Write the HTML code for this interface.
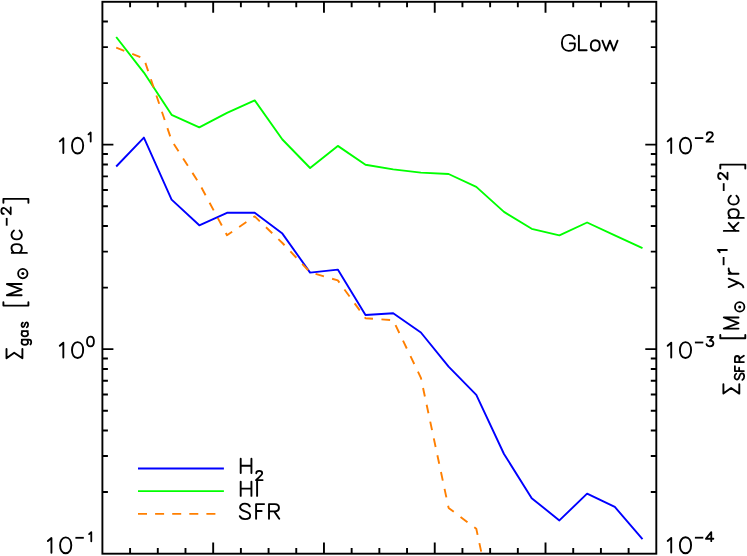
<!DOCTYPE html>
<html><head><meta charset="utf-8"><title>GLow</title>
<style>html,body{margin:0;padding:0;background:#fff;overflow:hidden}svg{display:block}text{font-family:"Liberation Sans",sans-serif;fill:#000}</style></head><body>
<svg role="img" aria-label="GLow: surface density of H2, HI gas and SFR versus radius" width="747" height="556" viewBox="0 0 747 556">
<desc>GLow. Left axis: Sigma_gas [M_sun pc^-2], 10^-1 to 10^1. Right axis: Sigma_SFR [M_sun yr^-1 kpc^-2], 10^-4 to 10^-2. Legend: H2 (blue), HI (green), SFR (orange dashed).</desc>
<rect x="0" y="0" width="747" height="556" fill="#fff"/>
<defs><clipPath id="c"><rect x="102.4" y="1.8" width="553.9" height="551.9"/></clipPath></defs>
<path d="M130.09 1.75v5.50M130.09 553.60v-5.50M157.79 1.75v5.50M157.79 553.60v-5.50M185.49 1.75v5.50M185.49 553.60v-5.50M213.18 1.75v11.00M213.18 553.60v-11.00M240.88 1.75v5.50M240.88 553.60v-5.50M268.57 1.75v5.50M268.57 553.60v-5.50M296.26 1.75v5.50M296.26 553.60v-5.50M323.96 1.75v11.00M323.96 553.60v-11.00M351.65 1.75v5.50M351.65 553.60v-5.50M379.35 1.75v5.50M379.35 553.60v-5.50M407.04 1.75v5.50M407.04 553.60v-5.50M434.74 1.75v11.00M434.74 553.60v-11.00M462.44 1.75v5.50M462.44 553.60v-5.50M490.13 1.75v5.50M490.13 553.60v-5.50M517.83 1.75v5.50M517.83 553.60v-5.50M545.52 1.75v11.00M545.52 553.60v-11.00M573.22 1.75v5.50M573.22 553.60v-5.50M600.91 1.75v5.50M600.91 553.60v-5.50M628.61 1.75v5.50M628.61 553.60v-5.50M102.40 492.05h5.50M656.30 492.05h-5.50M102.40 456.04h5.50M656.30 456.04h-5.50M102.40 430.50h5.50M656.30 430.50h-5.50M102.40 410.68h5.50M656.30 410.68h-5.50M102.40 394.49h5.50M656.30 394.49h-5.50M102.40 380.81h5.50M656.30 380.81h-5.50M102.40 368.95h5.50M656.30 368.95h-5.50M102.40 358.49h5.50M656.30 358.49h-5.50M102.40 349.13h11.00M656.30 349.13h-11.00M102.40 287.58h5.50M656.30 287.58h-5.50M102.40 251.58h5.50M656.30 251.58h-5.50M102.40 226.03h5.50M656.30 226.03h-5.50M102.40 206.22h5.50M656.30 206.22h-5.50M102.40 190.03h5.50M656.30 190.03h-5.50M102.40 176.34h5.50M656.30 176.34h-5.50M102.40 164.48h5.50M656.30 164.48h-5.50M102.40 154.02h5.50M656.30 154.02h-5.50M102.40 144.67h11.00M656.30 144.67h-11.00M102.40 83.12h5.50M656.30 83.12h-5.50M102.40 47.11h5.50M656.30 47.11h-5.50M102.40 21.56h5.50M656.30 21.56h-5.50" stroke="#000" stroke-width="1.9" fill="none"/>
<rect x="102.4" y="1.8" width="553.9" height="551.9" fill="none" stroke="#000" stroke-width="1.9"/>
<g clip-path="url(#c)" fill="none" stroke-width="1.9" stroke-linejoin="round">
<polyline points="116.2,166.5 143.9,137.6 171.6,199.6 199.3,225.3 227.0,212.8 254.7,212.8 282.4,233.6 310.1,272.6 337.8,269.6 365.5,315.0 393.2,313.3 420.9,332.5 448.6,366.7 476.3,394.8 504.0,454.0 531.7,498.2 559.4,520.4 587.1,493.6 614.8,506.9 642.5,539.2" stroke="#0000ff"/>
<polyline points="116.2,37.0 143.9,72.6 171.6,114.8 199.3,127.3 227.0,112.8 254.7,100.4 282.4,139.5 310.1,168.0 337.8,145.9 365.5,164.8 393.2,169.4 420.9,172.6 448.6,174.0 476.3,186.9 504.0,211.9 531.7,228.8 559.4,235.3 587.1,222.5 614.8,235.4 642.5,248.1" stroke="#00ff00"/>
<polyline points="116.2,47.7 143.9,58.5 171.6,140.5 199.3,183.5 227.0,235.2 254.7,216.4 282.4,243.0 310.1,272.3 337.8,280.4 365.5,318.2 393.2,320.3 420.9,377.8 448.6,507.9 476.3,528.8 504.0,658.0" stroke="#ff7f00" stroke-dasharray="8.7 8.5"/>
</g>
<g fill="none" stroke-width="1.9">
<path d="M138.0 468.5H223.9" stroke="#0000ff"/>
<path d="M138.0 491.1H223.9" stroke="#00ff00"/>
<path d="M138.0 513.9H223.3" stroke="#ff7f00" stroke-dasharray="9 8.1"/>
</g>
<path transform="translate(59.80 152.97) scale(14.700)" d="M0,-0.79L0.24,-1L0.24,0" fill="none" stroke="#000" stroke-width="0.129" stroke-linecap="round" stroke-linejoin="round"/><path transform="translate(72.00 152.97) scale(14.700)" d="M0.38,-1.04C0.14,-1.04 0,-0.8 0,-0.5C0,-0.2 0.14,0.04 0.38,0.04C0.62,0.04 0.76,-0.2 0.76,-0.5C0.76,-0.8 0.62,-1.04 0.38,-1.04Z" fill="none" stroke="#000" stroke-width="0.129" stroke-linecap="round" stroke-linejoin="round"/><path transform="translate(88.50 141.57) scale(9.100)" d="M0,-0.79L0.24,-1L0.24,0" fill="none" stroke="#000" stroke-width="0.198" stroke-linecap="round" stroke-linejoin="round"/>
<path transform="translate(59.80 357.43) scale(14.700)" d="M0,-0.79L0.24,-1L0.24,0" fill="none" stroke="#000" stroke-width="0.129" stroke-linecap="round" stroke-linejoin="round"/><path transform="translate(72.00 357.43) scale(14.700)" d="M0.38,-1.04C0.14,-1.04 0,-0.8 0,-0.5C0,-0.2 0.14,0.04 0.38,0.04C0.62,0.04 0.76,-0.2 0.76,-0.5C0.76,-0.8 0.62,-1.04 0.38,-1.04Z" fill="none" stroke="#000" stroke-width="0.129" stroke-linecap="round" stroke-linejoin="round"/><path transform="translate(87.00 346.03) scale(9.100)" d="M0.38,-1.04C0.14,-1.04 0,-0.8 0,-0.5C0,-0.2 0.14,0.04 0.38,0.04C0.62,0.04 0.76,-0.2 0.76,-0.5C0.76,-0.8 0.62,-1.04 0.38,-1.04Z" fill="none" stroke="#000" stroke-width="0.198" stroke-linecap="round" stroke-linejoin="round"/>
<path transform="translate(47.90 552.70) scale(14.700)" d="M0,-0.79L0.24,-1L0.24,0" fill="none" stroke="#000" stroke-width="0.129" stroke-linecap="round" stroke-linejoin="round"/><path transform="translate(60.10 552.70) scale(14.700)" d="M0.38,-1.04C0.14,-1.04 0,-0.8 0,-0.5C0,-0.2 0.14,0.04 0.38,0.04C0.62,0.04 0.76,-0.2 0.76,-0.5C0.76,-0.8 0.62,-1.04 0.38,-1.04Z" fill="none" stroke="#000" stroke-width="0.129" stroke-linecap="round" stroke-linejoin="round"/><path d="M75.4 537.8H83.8" stroke="#000" stroke-width="1.8" fill="none"/><path transform="translate(89.10 541.30) scale(9.100)" d="M0,-0.79L0.24,-1L0.24,0" fill="none" stroke="#000" stroke-width="0.198" stroke-linecap="round" stroke-linejoin="round"/>
<path transform="translate(667.70 152.97) scale(14.700)" d="M0,-0.79L0.24,-1L0.24,0" fill="none" stroke="#000" stroke-width="0.129" stroke-linecap="round" stroke-linejoin="round"/><path transform="translate(679.90 152.97) scale(14.700)" d="M0.38,-1.04C0.14,-1.04 0,-0.8 0,-0.5C0,-0.2 0.14,0.04 0.38,0.04C0.62,0.04 0.76,-0.2 0.76,-0.5C0.76,-0.8 0.62,-1.04 0.38,-1.04Z" fill="none" stroke="#000" stroke-width="0.129" stroke-linecap="round" stroke-linejoin="round"/><path d="M694.9 138.1H703.3" stroke="#000" stroke-width="1.8" fill="none"/><path transform="translate(706.50 141.57) scale(9.100)" d="M0.03,-0.76C0.03,-0.92 0.16,-1.03 0.36,-1.03C0.56,-1.03 0.69,-0.92 0.69,-0.76C0.69,-0.6 0.55,-0.48 0,0L0.74,0" fill="none" stroke="#000" stroke-width="0.198" stroke-linecap="round" stroke-linejoin="round"/>
<path transform="translate(667.70 357.43) scale(14.700)" d="M0,-0.79L0.24,-1L0.24,0" fill="none" stroke="#000" stroke-width="0.129" stroke-linecap="round" stroke-linejoin="round"/><path transform="translate(679.90 357.43) scale(14.700)" d="M0.38,-1.04C0.14,-1.04 0,-0.8 0,-0.5C0,-0.2 0.14,0.04 0.38,0.04C0.62,0.04 0.76,-0.2 0.76,-0.5C0.76,-0.8 0.62,-1.04 0.38,-1.04Z" fill="none" stroke="#000" stroke-width="0.129" stroke-linecap="round" stroke-linejoin="round"/><path d="M694.9 342.5H703.3" stroke="#000" stroke-width="1.8" fill="none"/><path transform="translate(706.50 346.03) scale(9.100)" d="M0.1,-1L0.72,-1L0.36,-0.6C0.6,-0.62 0.76,-0.48 0.76,-0.3C0.76,-0.1 0.58,0.03 0.37,0.03C0.19,0.03 0.05,-0.05 0,-0.2" fill="none" stroke="#000" stroke-width="0.198" stroke-linecap="round" stroke-linejoin="round"/>
<path transform="translate(667.70 552.60) scale(14.700)" d="M0,-0.79L0.24,-1L0.24,0" fill="none" stroke="#000" stroke-width="0.129" stroke-linecap="round" stroke-linejoin="round"/><path transform="translate(679.90 552.60) scale(14.700)" d="M0.38,-1.04C0.14,-1.04 0,-0.8 0,-0.5C0,-0.2 0.14,0.04 0.38,0.04C0.62,0.04 0.76,-0.2 0.76,-0.5C0.76,-0.8 0.62,-1.04 0.38,-1.04Z" fill="none" stroke="#000" stroke-width="0.129" stroke-linecap="round" stroke-linejoin="round"/><path d="M694.9 537.7H703.3" stroke="#000" stroke-width="1.8" fill="none"/><path transform="translate(705.90 541.20) scale(9.100)" d="M0.59,0L0.59,-1L0,-0.27L0.82,-0.27" fill="none" stroke="#000" stroke-width="0.198" stroke-linecap="round" stroke-linejoin="round"/>
<path transform="translate(240.70 473.10) scale(14.300)" d="M0,-1L0,0M0.75,-1L0.75,0M0,-0.51L0.75,-0.51" fill="none" stroke="#000" stroke-width="0.133" stroke-linecap="round" stroke-linejoin="round"/><path transform="translate(256.00 480.10) scale(9.000)" d="M0.03,-0.76C0.03,-0.92 0.16,-1.03 0.36,-1.03C0.56,-1.03 0.69,-0.92 0.69,-0.76C0.69,-0.6 0.55,-0.48 0,0L0.74,0" fill="none" stroke="#000" stroke-width="0.200" stroke-linecap="round" stroke-linejoin="round"/>
<path transform="translate(240.70 495.90) scale(14.300)" d="M0,-1L0,0M0.75,-1L0.75,0M0,-0.51L0.75,-0.51" fill="none" stroke="#000" stroke-width="0.133" stroke-linecap="round" stroke-linejoin="round"/><path transform="translate(257.10 495.90) scale(14.300)" d="M0,-1L0,0" fill="none" stroke="#000" stroke-width="0.133" stroke-linecap="round" stroke-linejoin="round"/>
<path transform="translate(239.80 518.70) scale(14.600)" d="M0.68,-0.85C0.62,-0.97 0.5,-1.03 0.35,-1.03C0.15,-1.03 0.02,-0.92 0.02,-0.78C0.02,-0.62 0.15,-0.56 0.36,-0.5C0.58,-0.44 0.71,-0.38 0.71,-0.22C0.71,-0.07 0.57,0.03 0.36,0.03C0.18,0.03 0.05,-0.05 0,-0.17" fill="none" stroke="#000" stroke-width="0.130" stroke-linecap="round" stroke-linejoin="round"/><path transform="translate(256.10 518.70) scale(14.600)" d="M0,0L0,-1L0.55,-1M0,-0.53L0.38,-0.53" fill="none" stroke="#000" stroke-width="0.130" stroke-linecap="round" stroke-linejoin="round"/><path transform="translate(269.00 518.70) scale(14.600)" d="M0,0L0,-1L0.4,-1C0.6,-1 0.68,-0.88 0.68,-0.75C0.68,-0.6 0.6,-0.5 0.4,-0.5L0,-0.5M0.36,-0.5L0.7,0" fill="none" stroke="#000" stroke-width="0.130" stroke-linecap="round" stroke-linejoin="round"/>
<path transform="translate(561.90 50.40) scale(14.900)" d="M0.85,-0.78C0.77,-0.95 0.63,-1.04 0.45,-1.04C0.18,-1.04 0,-0.82 0,-0.5C0,-0.18 0.18,0.03 0.45,0.03C0.66,0.03 0.87,-0.08 0.87,-0.3L0.87,-0.47L0.53,-0.47" fill="none" stroke="#000" stroke-width="0.128" stroke-linecap="round" stroke-linejoin="round"/><path transform="translate(578.90 50.30) scale(14.600)" d="M0,-1L0,0L0.53,0" fill="none" stroke="#000" stroke-width="0.130" stroke-linecap="round" stroke-linejoin="round"/><path transform="translate(590.80 50.50) scale(14.700)" d="M0.305,-0.7C0.12,-0.7 0,-0.55 0,-0.34C0,-0.13 0.12,0.02 0.305,0.02C0.49,0.02 0.61,-0.13 0.61,-0.34C0.61,-0.55 0.49,-0.7 0.305,-0.7Z" fill="none" stroke="#000" stroke-width="0.129" stroke-linecap="round" stroke-linejoin="round"/><path transform="translate(602.40 50.50) scale(14.700)" d="M0,-0.667L0.26,0L0.515,-0.667L0.77,0L1.03,-0.667" fill="none" stroke="#000" stroke-width="0.129" stroke-linecap="round" stroke-linejoin="round"/>
<g transform="translate(21.6 359.2) rotate(-90)"><path d="M10.2 -15.1H0.9L6.5 -7.4L0.9 0.8H10.2" fill="none" stroke="#000" stroke-width="1.9" stroke-linejoin="round" stroke-linecap="round"/><path transform="translate(14.30 6.30) scale(9.200)" d="M0.57,-0.667L0.57,0.1C0.57,0.28 0.47,0.36 0.3,0.36C0.2,0.36 0.12,0.34 0.05,0.28M0.57,-0.52C0.48,-0.63 0.4,-0.69 0.28,-0.69C0.1,-0.69 0,-0.53 0,-0.33C0,-0.13 0.1,0.02 0.28,0.02C0.4,0.02 0.48,-0.04 0.57,-0.14" fill="none" stroke="#000" stroke-width="0.196" stroke-linecap="round" stroke-linejoin="round"/><path transform="translate(22.90 6.30) scale(9.200)" d="M0.57,-0.667L0.57,0M0.57,-0.52C0.48,-0.63 0.4,-0.69 0.28,-0.69C0.1,-0.69 0,-0.53 0,-0.33C0,-0.13 0.1,0.02 0.28,0.02C0.4,0.02 0.48,-0.04 0.57,-0.14" fill="none" stroke="#000" stroke-width="0.196" stroke-linecap="round" stroke-linejoin="round"/><path transform="translate(32.00 6.30) scale(9.200)" d="M0.5,-0.55C0.45,-0.64 0.37,-0.69 0.25,-0.69C0.12,-0.69 0.02,-0.62 0.02,-0.52C0.02,-0.4 0.13,-0.37 0.26,-0.34C0.4,-0.3 0.52,-0.27 0.52,-0.15C0.52,-0.05 0.42,0.02 0.26,0.02C0.13,0.02 0.04,-0.03 0,-0.12" fill="none" stroke="#000" stroke-width="0.196" stroke-linecap="round" stroke-linejoin="round"/><path d="M57.0 -18.2H53.6V6.8H57.0" fill="none" stroke="#000" stroke-width="1.9" stroke-linejoin="round" stroke-linecap="round"/><path transform="translate(64.00 0.00) scale(14.700)" d="M0,0L0,-1L0.38,0L0.76,-1L0.76,0" fill="none" stroke="#000" stroke-width="0.129" stroke-linecap="round" stroke-linejoin="round"/><circle cx="85.6" cy="1.2" r="4.7" fill="none" stroke="#000" stroke-width="1.8"/><circle cx="85.6" cy="1.2" r="1.5"/><path transform="translate(106.30 0.00) scale(14.700)" d="M0,-0.667L0,0.36M0,-0.52C0.1,-0.63 0.2,-0.69 0.32,-0.69C0.5,-0.69 0.6,-0.53 0.6,-0.33C0.6,-0.13 0.5,0.02 0.32,0.02C0.2,0.02 0.1,-0.04 0,-0.14" fill="none" stroke="#000" stroke-width="0.129" stroke-linecap="round" stroke-linejoin="round"/><path transform="translate(119.80 0.00) scale(14.700)" d="M0.6,-0.52C0.52,-0.63 0.43,-0.69 0.31,-0.69C0.12,-0.69 0,-0.53 0,-0.33C0,-0.13 0.12,0.02 0.31,0.02C0.43,0.02 0.52,-0.04 0.6,-0.14" fill="none" stroke="#000" stroke-width="0.129" stroke-linecap="round" stroke-linejoin="round"/><path d="M133.5 -14.9H141.3" stroke="#000" stroke-width="1.8" fill="none"/><path transform="translate(145.00 -10.90) scale(9.100)" d="M0.03,-0.76C0.03,-0.92 0.16,-1.03 0.36,-1.03C0.56,-1.03 0.69,-0.92 0.69,-0.76C0.69,-0.6 0.55,-0.48 0,0L0.74,0" fill="none" stroke="#000" stroke-width="0.198" stroke-linecap="round" stroke-linejoin="round"/><path d="M156.4 -18.2H160.3V6.8H156.4" fill="none" stroke="#000" stroke-width="1.9" stroke-linejoin="round" stroke-linecap="round"/></g>
<g transform="translate(738.5 394.0) rotate(-90)"><path d="M9.7 -15.1H0.4L6.0 -7.4L0.4 0.8H9.7" fill="none" stroke="#000" stroke-width="1.9" stroke-linejoin="round" stroke-linecap="round"/><path transform="translate(14.20 5.40) scale(9.000)" d="M0.68,-0.85C0.62,-0.97 0.5,-1.03 0.35,-1.03C0.15,-1.03 0.02,-0.92 0.02,-0.78C0.02,-0.62 0.15,-0.56 0.36,-0.5C0.58,-0.44 0.71,-0.38 0.71,-0.22C0.71,-0.07 0.57,0.03 0.36,0.03C0.18,0.03 0.05,-0.05 0,-0.17" fill="none" stroke="#000" stroke-width="0.200" stroke-linecap="round" stroke-linejoin="round"/><path transform="translate(22.90 5.40) scale(9.000)" d="M0,0L0,-1L0.55,-1M0,-0.53L0.38,-0.53" fill="none" stroke="#000" stroke-width="0.200" stroke-linecap="round" stroke-linejoin="round"/><path transform="translate(31.90 5.40) scale(9.000)" d="M0,0L0,-1L0.4,-1C0.6,-1 0.68,-0.88 0.68,-0.75C0.68,-0.6 0.6,-0.5 0.4,-0.5L0,-0.5M0.36,-0.5L0.7,0" fill="none" stroke="#000" stroke-width="0.200" stroke-linecap="round" stroke-linejoin="round"/><path d="M59.1 -18.2H55.7V6.8H59.1" fill="none" stroke="#000" stroke-width="1.9" stroke-linejoin="round" stroke-linecap="round"/><path transform="translate(65.40 0.00) scale(14.700)" d="M0,0L0,-1L0.38,0L0.76,-1L0.76,0" fill="none" stroke="#000" stroke-width="0.129" stroke-linecap="round" stroke-linejoin="round"/><circle cx="87.1" cy="1.2" r="4.7" fill="none" stroke="#000" stroke-width="1.8"/><circle cx="87.1" cy="1.2" r="1.5"/><path transform="translate(106.90 0.00) scale(14.700)" d="M0,-0.667L0.29,0M0.57,-0.667L0.29,0C0.2,0.22 0.13,0.33 -0.02,0.33" fill="none" stroke="#000" stroke-width="0.129" stroke-linecap="round" stroke-linejoin="round"/><path transform="translate(120.20 0.00) scale(14.700)" d="M0,-0.667L0,0M0,-0.42C0.05,-0.58 0.17,-0.68 0.36,-0.667" fill="none" stroke="#000" stroke-width="0.129" stroke-linecap="round" stroke-linejoin="round"/><path d="M128.8 -14.9H137.0" stroke="#000" stroke-width="1.8" fill="none"/><path transform="translate(141.80 -11.60) scale(9.100)" d="M0,-0.79L0.24,-1L0.24,0" fill="none" stroke="#000" stroke-width="0.198" stroke-linecap="round" stroke-linejoin="round"/><path transform="translate(163.10 0.00) scale(14.700)" d="M0,-1L0,0M0.54,-0.667L0,-0.2M0.2,-0.37L0.56,0" fill="none" stroke="#000" stroke-width="0.129" stroke-linecap="round" stroke-linejoin="round"/><path transform="translate(176.10 0.00) scale(14.700)" d="M0,-0.667L0,0.36M0,-0.52C0.1,-0.63 0.2,-0.69 0.32,-0.69C0.5,-0.69 0.6,-0.53 0.6,-0.33C0.6,-0.13 0.5,0.02 0.32,0.02C0.2,0.02 0.1,-0.04 0,-0.14" fill="none" stroke="#000" stroke-width="0.129" stroke-linecap="round" stroke-linejoin="round"/><path transform="translate(189.50 0.00) scale(14.700)" d="M0.6,-0.52C0.52,-0.63 0.43,-0.69 0.31,-0.69C0.12,-0.69 0,-0.53 0,-0.33C0,-0.13 0.12,0.02 0.31,0.02C0.43,0.02 0.52,-0.04 0.6,-0.14" fill="none" stroke="#000" stroke-width="0.129" stroke-linecap="round" stroke-linejoin="round"/><path d="M203.0 -14.8H210.8" stroke="#000" stroke-width="1.8" fill="none"/><path transform="translate(214.70 -11.00) scale(9.100)" d="M0.03,-0.76C0.03,-0.92 0.16,-1.03 0.36,-1.03C0.56,-1.03 0.69,-0.92 0.69,-0.76C0.69,-0.6 0.55,-0.48 0,0L0.74,0" fill="none" stroke="#000" stroke-width="0.198" stroke-linecap="round" stroke-linejoin="round"/><path d="M225.5 -18.2H229.4V6.8H225.5" fill="none" stroke="#000" stroke-width="1.9" stroke-linejoin="round" stroke-linecap="round"/></g>
</svg></body></html>
